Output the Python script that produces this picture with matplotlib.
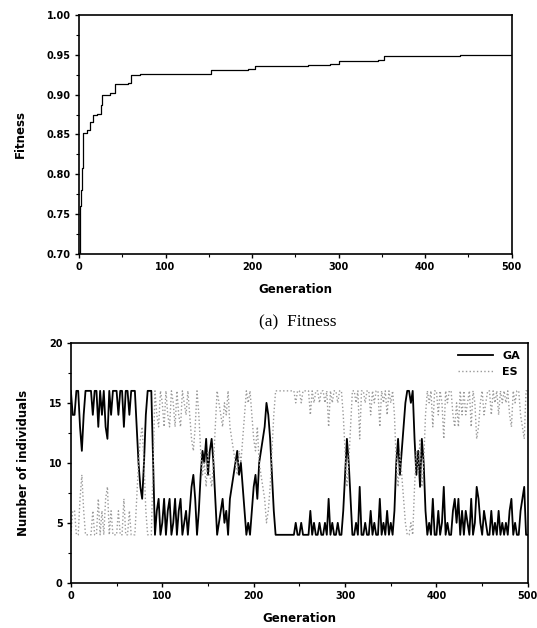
import matplotlib
matplotlib.use('Agg')
import matplotlib.pyplot as plt
from matplotlib.ticker import MultipleLocator

# best fitness per generation (step changes)
fit_gen = [0, 1, 2, 3, 5, 9, 13, 16, 21, 26, 27, 36, 42, 57, 60, 70, 150,
           152, 195, 203, 265, 290, 300, 345, 352, 400, 440, 500]
fit_val = [0.70, 0.76, 0.78, 0.808, 0.852, 0.855, 0.866, 0.874, 0.876, 0.887,
           0.899, 0.902, 0.913, 0.915, 0.925, 0.926, 0.926, 0.931, 0.932,
           0.936, 0.937, 0.938, 0.942, 0.943, 0.948, 0.949, 0.950, 0.950]

# number of individuals, every 2nd generation
gen_pop = list(range(0, 501, 2))
ga = [16, 14, 14, 16, 16, 13, 11, 14, 16, 16,
      16, 16, 14, 16, 16, 13, 16, 14, 16, 13,
      12, 16, 14, 16, 16, 16, 14, 16, 16, 13,
      16, 16, 14, 16, 16, 16, 13, 10, 8, 7,
      10, 14, 16, 16, 16, 10, 4, 6, 7, 4,
      5, 7, 4, 6, 7, 4, 5, 7, 4, 6,
      7, 4, 5, 6, 4, 6, 8, 9, 7, 4,
      6, 9, 11, 10, 12, 9, 11, 12, 10, 7,
      4, 5, 6, 7, 5, 6, 4, 7, 8, 9,
      10, 11, 9, 10, 8, 6, 4, 5, 4, 6,
      8, 9, 7, 10, 11, 12, 13, 15, 14, 12,
      9, 6, 4, 4, 4, 4, 4, 4, 4, 4,
      4, 4, 4, 5, 4, 4, 5, 4, 4, 4,
      4, 6, 4, 5, 4, 4, 5, 4, 4, 5,
      4, 7, 4, 5, 4, 4, 5, 4, 4, 6,
      9, 12, 10, 7, 4, 4, 5, 4, 8, 4,
      4, 5, 4, 4, 6, 4, 5, 4, 4, 7,
      4, 5, 4, 6, 4, 5, 4, 6, 10, 12,
      9, 11, 13, 15, 16, 16, 15, 16, 12, 9,
      11, 8, 12, 10, 6, 4, 5, 4, 7, 4,
      4, 6, 4, 5, 8, 4, 5, 4, 4, 6,
      7, 5, 7, 4, 6, 4, 6, 5, 4, 7,
      4, 5, 8, 7, 5, 4, 6, 5, 4, 4,
      6, 4, 5, 4, 6, 4, 5, 4, 5, 4,
      6, 7, 4, 5, 4, 4, 6, 7, 8, 4,
      4]
es = [4, 6, 6, 4, 4, 7, 9, 6, 4, 4,
      4, 4, 6, 4, 4, 7, 4, 6, 4, 7,
      8, 4, 6, 4, 4, 4, 6, 4, 4, 7,
      4, 4, 6, 4, 4, 4, 7, 10, 12, 13,
      10, 6, 4, 4, 4, 10, 16, 14, 13, 16,
      15, 13, 16, 14, 13, 16, 15, 13, 16, 14,
      13, 16, 15, 14, 16, 14, 12, 11, 13, 16,
      14, 11, 9, 10, 8, 11, 9, 8, 10, 13,
      16, 15, 14, 13, 15, 14, 16, 13, 12, 11,
      10, 9, 11, 10, 12, 14, 16, 15, 16, 14,
      12, 11, 13, 10, 9, 8, 7, 5, 6, 8,
      11, 14, 16, 16, 16, 16, 16, 16, 16, 16,
      16, 16, 16, 15, 16, 16, 15, 16, 16, 16,
      16, 14, 16, 15, 16, 16, 15, 16, 16, 15,
      16, 13, 16, 15, 16, 16, 15, 16, 16, 14,
      11, 8, 10, 13, 16, 16, 15, 16, 12, 16,
      16, 15, 16, 16, 14, 16, 15, 16, 16, 13,
      16, 15, 16, 14, 16, 15, 16, 14, 10, 8,
      11, 9, 7, 5, 4, 4, 5, 4, 8, 11,
      9, 12, 8, 10, 14, 16, 15, 16, 13, 16,
      16, 14, 16, 15, 12, 16, 15, 16, 16, 14,
      13, 15, 13, 16, 14, 16, 14, 15, 16, 13,
      16, 15, 12, 13, 15, 16, 14, 15, 16, 16,
      14, 16, 15, 16, 14, 16, 15, 16, 15, 16,
      14, 13, 16, 15, 16, 16, 14, 13, 12, 16,
      16]

tick_font = dict(fontsize=7, fontweight='bold')

fig = plt.figure(figsize=(5.37, 6.28), dpi=100)

# (a) fitness
ax1 = fig.add_axes([0.147, 0.596, 0.806, 0.380])
ax1.plot(fit_gen, fit_val, color='black', lw=0.9, drawstyle='steps-post')
ax1.set_xlim(0, 500)
ax1.set_ylim(0.70, 1.00)
ax1.xaxis.set_major_locator(MultipleLocator(100))
ax1.xaxis.set_minor_locator(MultipleLocator(50))
ax1.yaxis.set_major_locator(MultipleLocator(0.05))
ax1.yaxis.set_minor_locator(MultipleLocator(0.025))
ax1.set_yticks([0.70, 0.75, 0.80, 0.85, 0.90, 0.95, 1.00])
ax1.set_yticklabels(['0.70', '0.75', '0.80', '0.85', '0.90', '0.95', '1.00'], **tick_font)
ax1.set_xticks([0, 100, 200, 300, 400, 500])
ax1.set_xticklabels(['0', '100', '200', '300', '400', '500'], **tick_font)
ax1.set_xlabel('Generation', fontsize=8.5, fontweight='bold', labelpad=8)
ax1.set_ylabel('Fitness', fontsize=8.5, fontweight='bold', labelpad=14)
fig.text(0.555, 0.487, '(a)  Fitness', fontsize=12.5, family='Liberation Serif',
         ha='center', va='center')

# (b) population split
ax2 = fig.add_axes([0.132, 0.072, 0.851, 0.382])
ax2.plot(gen_pop, ga, color='black', lw=1.3, label='GA')
ax2.plot(gen_pop, es, color='#9a9a9a', lw=1.0, ls=':', label='ES')
ax2.set_xlim(0, 500)
ax2.set_ylim(0, 20)
ax2.xaxis.set_minor_locator(MultipleLocator(50))
ax2.yaxis.set_minor_locator(MultipleLocator(2.5))
ax2.set_xticks([0, 100, 200, 300, 400, 500])
ax2.set_xticklabels(['0', '100', '200', '300', '400', '500'], **tick_font)
ax2.set_yticks([0, 5, 10, 15, 20])
ax2.set_yticklabels(['0', '5', '10', '15', '20'], **tick_font)
ax2.set_xlabel('Generation', fontsize=8.5, fontweight='bold', labelpad=8)
ax2.set_ylabel('Number of individuals', fontsize=8.5, fontweight='bold', labelpad=14)
leg = ax2.legend(loc='upper right', frameon=False, fontsize=8, handlelength=3.2,
                 borderaxespad=0.3, labelspacing=0.6)
for t in leg.get_texts():
    t.set_fontweight('bold')

for ax in (ax1, ax2):
    for s in ax.spines.values():
        s.set_linewidth(1.2)
    ax.tick_params(which='major', direction='out', length=3, width=1, pad=3)
    ax.tick_params(which='minor', direction='out', length=2, width=0.8)

plt.savefig('out.png', dpi=100)
